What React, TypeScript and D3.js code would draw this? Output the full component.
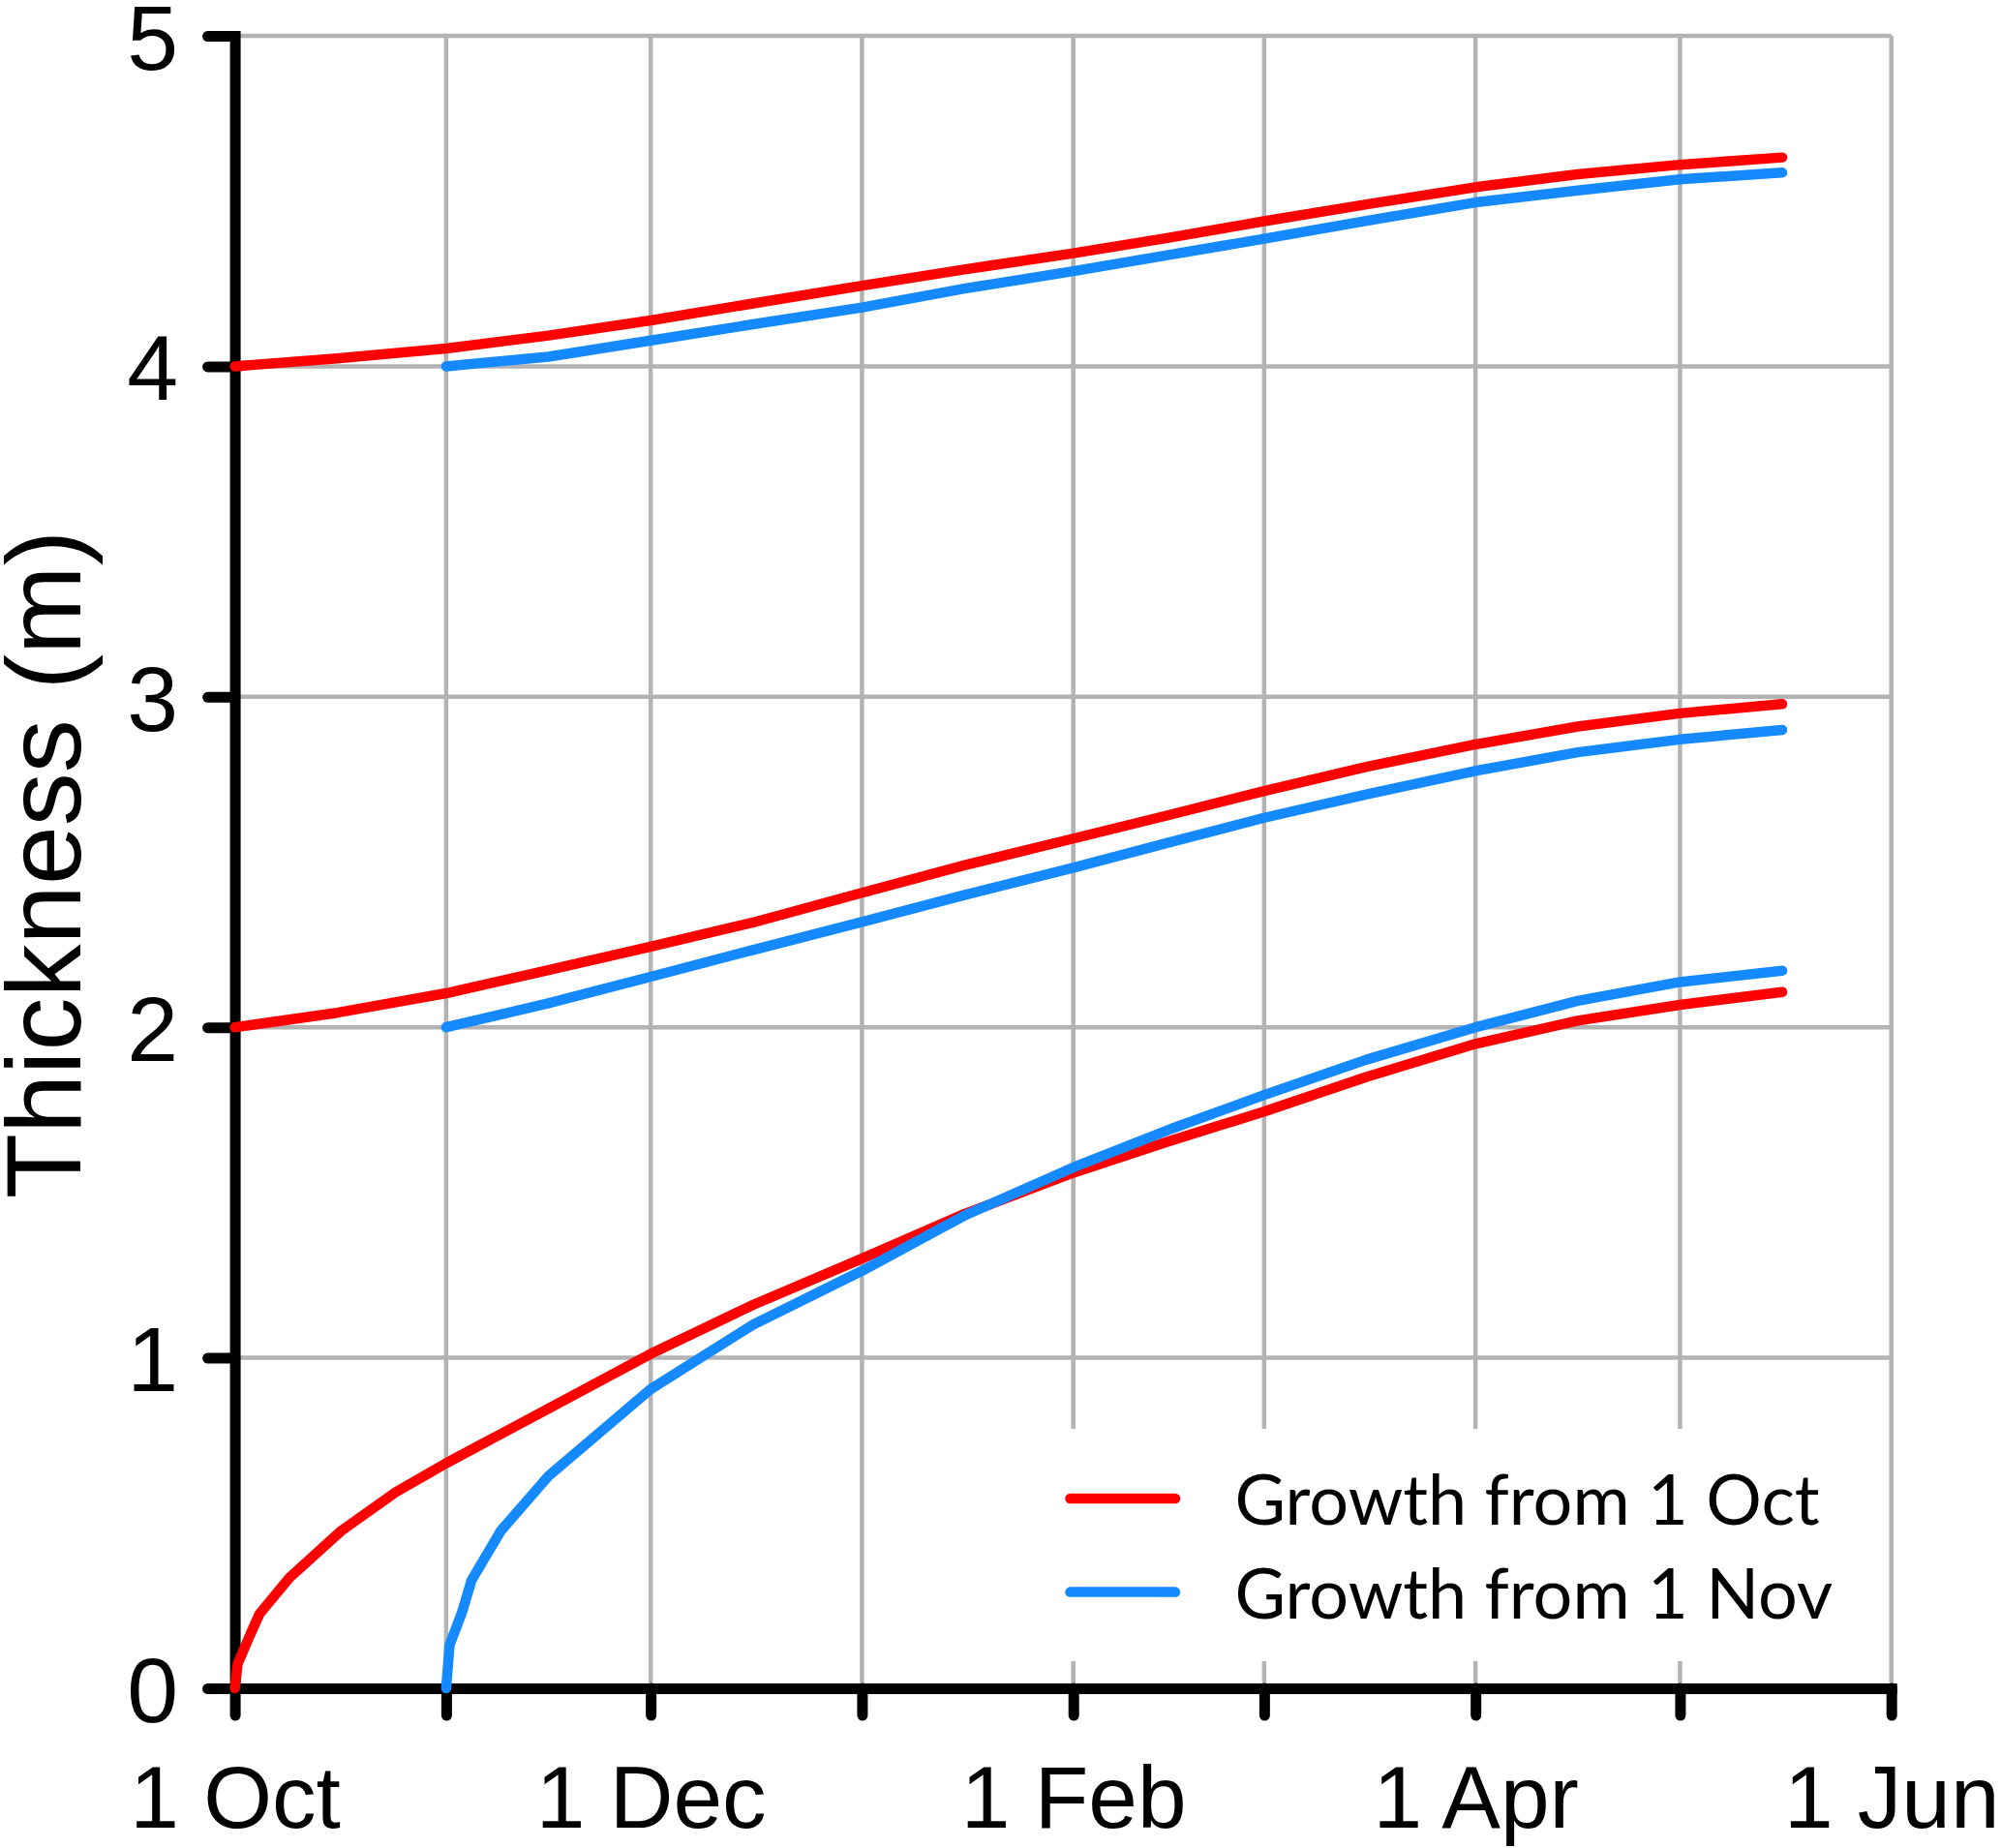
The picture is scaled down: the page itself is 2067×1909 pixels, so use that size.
import { useEffect, useRef } from "react";
import * as d3 from "d3";

// red series: growth starting 1 Oct (three starting thicknesses 0, 2 and 4 m)
const octFineDates = [
  "2001-10-01", "2001-10-01T10:00Z", "2001-10-03", "2001-10-04T14:00Z", "2001-10-09",
  "2001-10-16T14:00Z", "2001-10-24T14:00Z", "2001-11-01", "2001-11-16", "2001-12-01",
  "2001-12-16", "2002-01-01", "2002-01-16", "2002-02-01", "2002-02-15", "2002-03-01",
  "2002-03-16", "2002-04-01", "2002-04-16", "2002-05-01", "2002-05-16"
];
const octThin = [
  0, 0.074, 0.15, 0.224, 0.334, 0.476, 0.593, 0.681, 0.846, 1.012,
  1.16, 1.3, 1.435, 1.56, 1.655, 1.745, 1.85, 1.95, 2.02, 2.068, 2.107
];
const octDates = [
  "2001-10-01", "2001-10-16", "2001-11-01", "2001-11-16", "2001-12-01", "2001-12-16",
  "2002-01-01", "2002-01-16", "2002-02-01", "2002-02-15", "2002-03-01", "2002-03-16",
  "2002-04-01", "2002-04-16", "2002-05-01", "2002-05-16"
];
const octMid = [2.0, 2.044, 2.103, 2.173, 2.244, 2.317, 2.407, 2.49, 2.571, 2.642, 2.715, 2.788, 2.856, 2.91, 2.95, 2.978];
const octThick = [4.0, 4.024, 4.054, 4.093, 4.139, 4.19, 4.244, 4.293, 4.342, 4.389, 4.439, 4.49, 4.542, 4.581, 4.61, 4.632];

// blue series: growth starting 1 Nov
const novFineDates = [
  "2001-11-01", "2001-11-01T12:00Z", "2001-11-03T07:00Z", "2001-11-04T17:00Z", "2001-11-09",
  "2001-11-16", "2001-12-01", "2001-12-16", "2002-01-01", "2002-01-16", "2002-02-01",
  "2002-02-15", "2002-03-01", "2002-03-16", "2002-04-01", "2002-04-16", "2002-05-01", "2002-05-16"
];
const novThin = [0, 0.131, 0.228, 0.326, 0.476, 0.642, 0.905, 1.1, 1.263, 1.43, 1.576, 1.69, 1.795, 1.902, 2.0, 2.08, 2.137, 2.171];
const novDates = [
  "2001-11-01", "2001-11-16", "2001-12-01", "2001-12-16", "2002-01-01", "2002-01-16",
  "2002-02-01", "2002-02-15", "2002-03-01", "2002-03-16", "2002-04-01", "2002-04-16",
  "2002-05-01", "2002-05-16"
];
const novMid = [2.0, 2.073, 2.153, 2.234, 2.319, 2.4, 2.483, 2.559, 2.634, 2.705, 2.776, 2.832, 2.871, 2.9];
const novThick = [4.0, 4.029, 4.078, 4.127, 4.178, 4.235, 4.288, 4.337, 4.386, 4.44, 4.496, 4.532, 4.566, 4.586];

const yTicks = [0, 1, 2, 3, 4, 5];
const labelledMonths = ["Oct", "Dec", "Feb", "Apr", "Jun"];
const legendLabels = ["Growth from 1 Oct", "Growth from 1 Nov"];

const RED = "#ff0000";
const BLUE = "#1589ff";
const GRID = "#b3b3b3";
const ARIAL = "'Liberation Sans', Arial, sans-serif";

export default function App() {
  const svgRef = useRef<SVGSVGElement | null>(null);

  useEffect(() => {
    const svg = d3.select(svgRef.current);
    svg.selectAll("*").remove();

    const x = d3.scaleUtc()
      .domain([new Date("2001-10-01"), new Date("2002-06-01")])
      .range([242.6, 1953.7]);
    const y = d3.scaleLinear().domain([0, 5]).range([1744, 37]);

    const months = d3.utcMonth.range(new Date("2001-10-01"), new Date("2002-06-02"));

    // grid
    const grid = svg.append("g").attr("stroke", GRID).attr("stroke-width", 4.5);
    grid.selectAll("line.v")
      .data(months.slice(1))
      .join("line")
      .attr("class", "v")
      .attr("x1", d => x(d)).attr("x2", d => x(d))
      .attr("y1", y(5)).attr("y2", y(0));
    grid.selectAll("line.h")
      .data(yTicks.slice(1))
      .join("line")
      .attr("class", "h")
      .attr("x1", x.range()[0]).attr("x2", x.range()[1])
      .attr("y1", d => y(d)).attr("y2", d => y(d));

    // legend background hides the grid behind it
    svg.append("rect")
      .attr("x", 1085).attr("y", 1476)
      .attr("width", 860).attr("height", 240)
      .attr("fill", "#ffffff");

    // axes
    const fmt = d3.utcFormat("%-d %b");
    const xAxis = d3.axisBottom(x)
      .tickValues(months)
      .tickSize(28)
      .tickSizeOuter(0)
      .tickPadding(51)
      .tickFormat((d: any) => labelledMonths.includes(d3.utcFormat("%b")(d)) ? fmt(d) : "");
    const yAxis = d3.axisLeft(y)
      .tickValues(yTicks)
      .tickSize(28)
      .tickSizeOuter(0)
      .tickPadding(30.6)
      .tickFormat(d3.format("d"));

    const styleAxis = (g: any, size: number) => {
      g.attr("font-family", ARIAL).attr("font-size", size);
      g.select(".domain").attr("stroke", "#000").attr("stroke-width", 11).attr("stroke-linecap", "square");
      g.selectAll(".tick line").attr("stroke", "#000").attr("stroke-width", 11).attr("stroke-linecap", "round");
      g.selectAll(".tick text").attr("fill", "#000");
    };

    svg.append("g").attr("transform", `translate(0,${y(0)})`).call(xAxis).call(styleAxis, 91);
    svg.append("g").attr("transform", `translate(${x.range()[0]},0)`).call(yAxis).call(styleAxis, 95)
      .selectAll(".tick text").attr("dy", "0.36em");

    svg.append("text")
      .attr("transform", "translate(83,893) rotate(-90)")
      .attr("text-anchor", "middle")
      .attr("font-family", ARIAL)
      .attr("font-size", 110)
      .text("Thickness (m)");

    // curves
    const line = d3.line<[string, number]>()
      .x(d => x(new Date(d[0])))
      .y(d => y(d[1]));

    const series = [
      { dates: octFineDates, values: octThin, color: RED },
      { dates: octDates, values: octMid, color: RED },
      { dates: octDates, values: octThick, color: RED },
      { dates: novFineDates, values: novThin, color: BLUE },
      { dates: novDates, values: novMid, color: BLUE },
      { dates: novDates, values: novThick, color: BLUE },
    ];

    svg.append("g")
      .selectAll("path")
      .data(series)
      .join("path")
      .attr("d", s => line(d3.zip(s.dates, s.values) as [string, number][]))
      .attr("fill", "none")
      .attr("stroke", s => s.color)
      .attr("stroke-width", 10.5)
      .attr("stroke-linecap", "round")
      .attr("stroke-linejoin", "round");

    // legend
    const legend = svg.append("g")
      .selectAll("g")
      .data(legendLabels)
      .join("g")
      .attr("transform", (_, i) => `translate(0,${i * 96.6})`);
    legend.append("line")
      .attr("x1", 1105.5).attr("x2", 1214)
      .attr("y1", 1548).attr("y2", 1548)
      .attr("stroke", (_, i) => (i === 0 ? RED : BLUE))
      .attr("stroke-width", 10.5)
      .attr("stroke-linecap", "round");
    legend.append("text")
      .attr("x", 1275.6).attr("y", 1575)
      .attr("font-family", "Lato, 'Open Sans', sans-serif")
      .attr("font-size", 72)
      .attr("fill", "#000")
      .text(d => d);
  }, []);

  return (
    <svg
      ref={svgRef}
      width={2067}
      height={1909}
      style={{ position: "absolute", left: 0, top: 0, background: "#ffffff" }}
    />
  );
}
